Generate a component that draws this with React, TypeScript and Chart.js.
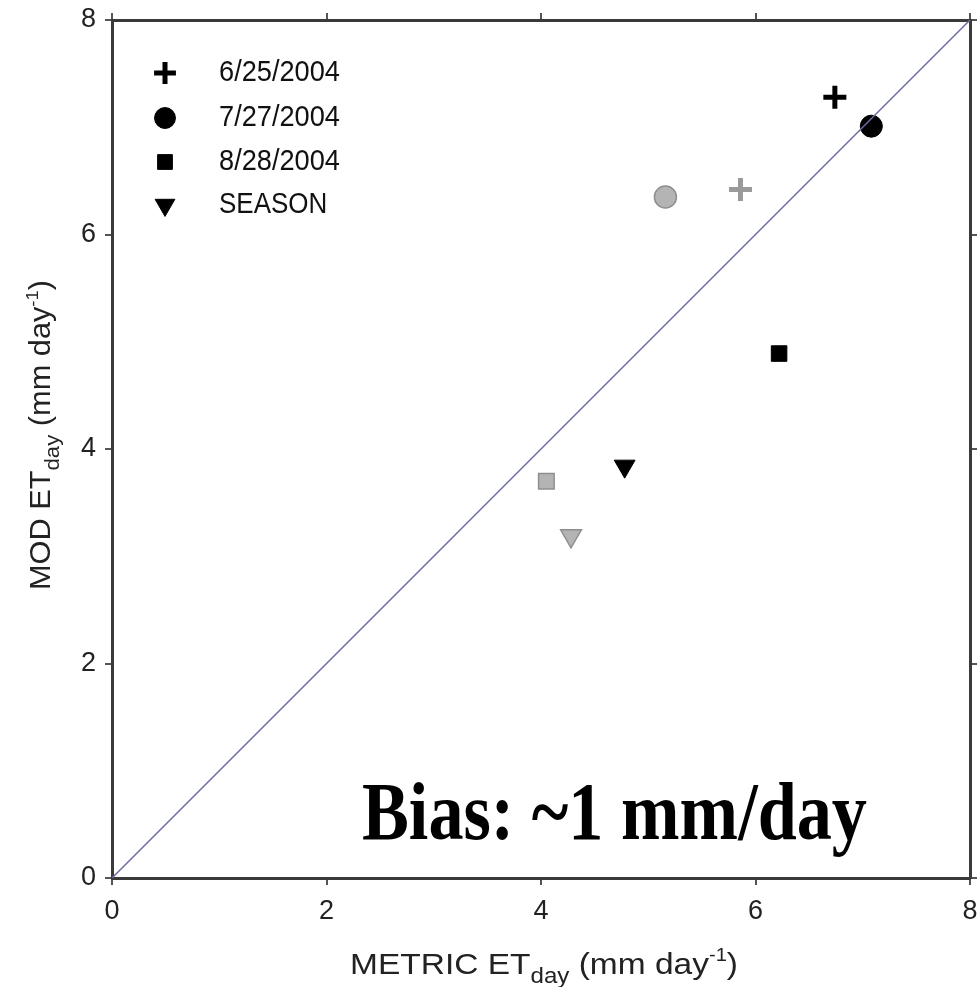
import React, { useEffect, useRef } from "react";
import { Chart, registerables } from "chart.js";
import { drawPoint } from "chart.js/helpers";

Chart.register(...registerables);

// ---- data ----
const seriesLabels = ["6/25/2004", "7/27/2004", "8/28/2004", "SEASON"];
const metricBlack = [6.74, 7.08, 6.22, 4.78];
const modBlack = [7.28, 7.01, 4.89, 3.84];
const metricGray = [5.86, 5.16, 4.05, 4.28];
const modGray = [6.42, 6.35, 3.7, 3.19];
const markerStyles = ["cross", "circle", "rect", "triangle"];
const markerRadii = [11.5, 11, 11, 12];
const tickValues = [0, 2, 4, 6, 8];
const lineX = [0, 8];
const lineY = [0, 8];
const biasText = "Bias: ~1 mm/day";

const SANS = "'Liberation Sans', Arial, Helvetica, sans-serif";
const SERIF = "'Liberation Serif', 'Times New Roman', serif";

type Part = { t: string; s: number; dy: number };

function partsWidth(ctx: CanvasRenderingContext2D, parts: Part[], base: number) {
  let w = 0;
  for (const p of parts) {
    ctx.font = `${base * p.s}px ${SANS}`;
    w += ctx.measureText(p.t).width;
  }
  return w;
}
function drawParts(ctx: CanvasRenderingContext2D, parts: Part[], base: number, x: number, y: number) {
  let cx = x;
  for (const p of parts) {
    ctx.font = `${base * p.s}px ${SANS}`;
    ctx.fillText(p.t, cx, y + p.dy * base);
    cx += ctx.measureText(p.t).width;
  }
}

const xTitle: Part[] = [
  { t: "METRIC ET", s: 1, dy: 0 },
  { t: "day", s: 0.72, dy: 0.3 },
  { t: " (mm day", s: 1, dy: 0 },
  { t: "-1", s: 0.6, dy: -0.42 },
  { t: ")", s: 1, dy: 0 },
];
const yTitle: Part[] = [
  { t: "MOD ET", s: 1, dy: 0 },
  { t: "day", s: 0.72, dy: 0.3 },
  { t: " (mm day", s: 1, dy: 0 },
  { t: "-1", s: 0.6, dy: -0.42 },
  { t: ")", s: 1, dy: 0 },
];

const overlayPlugin = {
  id: "overlay",
  afterDraw(chart: any) {
    const ctx: CanvasRenderingContext2D = chart.ctx;
    ctx.save();
    ctx.fillStyle = "#222";
    ctx.textBaseline = "alphabetic";
    ctx.textAlign = "left";

    // x title
    {
      const base = 28;
      const w = partsWidth(ctx, xTitle, base);
      const sx = 388 / w;
      ctx.save();
      ctx.translate(350, 974);
      ctx.scale(sx, 1.08);
      drawParts(ctx, xTitle, base, 0, 0);
      ctx.restore();
    }
    // y title
    {
      const base = 29;
      const w = partsWidth(ctx, yTitle, base);
      const sx = 310 / w;
      ctx.save();
      ctx.translate(50, 590);
      ctx.rotate(-Math.PI / 2);
      ctx.scale(sx, 1);
      drawParts(ctx, yTitle, base, 0, 0);
      ctx.restore();
    }

    // legend
    const legendItems = chart.data.datasets.filter((d: any) => d.inLegend);
    const rowsY = [73, 118, 162, 205];
    legendItems.forEach((d: any, i: number) => {
      const y = rowsY[i];
      ctx.save();
      ctx.fillStyle = d.backgroundColor;
      ctx.strokeStyle = d.borderColor;
      ctx.lineWidth = d.borderWidth;
      drawPoint(ctx, { pointStyle: d.pointStyle, rotation: d.rotation || 0, radius: d.radius * 0.95, borderWidth: d.borderWidth } as any, 165, y);
      ctx.restore();
      ctx.save();
      ctx.fillStyle = "#111";
      ctx.font = `26px ${SANS}`;
      ctx.textBaseline = "middle";
      const w = ctx.measureText(d.label).width;
      ctx.translate(219, y);
      ctx.scale(i === 3 ? 1 : 121 / w, 1.1);
      ctx.fillText(d.label, 0, 0);
      ctx.restore();
    });

    // bias annotation
    ctx.save();
    ctx.fillStyle = "#000";
    ctx.font = `bold 71px ${SERIF}`;
    const bw = ctx.measureText(biasText).width;
    ctx.translate(362, 839);
    ctx.scale(505 / bw, 1.15);
    ctx.fillText(biasText, 0, 0);
    ctx.restore();

    ctx.restore();
  },
};

export default function App() {
  const ref = useRef<HTMLCanvasElement>(null);
  useEffect(() => {
    if (!ref.current) return;
    const gray = { fill: "#b4b4b4", stroke: "#8e8e8e" };
    const datasets: any[] = [];
    seriesLabels.forEach((lab, i) => {
      const isCross = markerStyles[i] === "cross";
      const rot = markerStyles[i] === "triangle" ? 180 : 0;
      datasets.push({
        label: lab,
        inLegend: true,
        data: [{ x: metricBlack[i], y: modBlack[i] }],
        pointStyle: markerStyles[i],
        radius: markerRadii[i],
        pointRadius: markerRadii[i],
        rotation: rot,
        pointRotation: rot,
        backgroundColor: "#000",
        borderColor: "#000",
        borderWidth: isCross ? 5 : 1,
        pointBorderWidth: isCross ? 5 : 1,
        showLine: false,
      });
      datasets.push({
        label: lab + " (gray)",
        inLegend: false,
        data: [{ x: metricGray[i], y: modGray[i] }],
        pointStyle: markerStyles[i],
        radius: markerRadii[i],
        pointRadius: markerRadii[i],
        rotation: rot,
        pointRotation: rot,
        backgroundColor: isCross ? "#999" : gray.fill,
        borderColor: isCross ? "#9a9a9a" : gray.stroke,
        borderWidth: isCross ? 5 : 1.5,
        pointBorderWidth: isCross ? 5 : 1.5,
        showLine: false,
      });
    });
    datasets.unshift({
      label: "1:1",
      inLegend: false,
      data: lineX.map((x, i) => ({ x, y: lineY[i] })),
      showLine: true,
      borderColor: "#6b6ba3",
      borderWidth: 1.5,
      pointRadius: 0,
      fill: false,
    });

    const gridCommon = {
      drawOnChartArea: false,
      drawTicks: true,
      tickLength: 7,
      tickColor: "#555",
      lineWidth: 2,
    };
    const borderCommon = { display: true, color: "#3a3a3a", width: 3 };
    const tickCb = (v: any) => (tickValues.includes(v) ? String(v) : "");
    const fitH = (h: number) => (s: any) => { s.height = h; s.paddingLeft = 0; s.paddingRight = 0; };
    const fitW = (w: number) => (s: any) => { s.width = w; s.paddingTop = 0; s.paddingBottom = 0; };

    const chart = new Chart(ref.current, {
      type: "scatter",
      data: { datasets },
      plugins: [overlayPlugin],
      options: {
        animation: false,
        responsive: false,
        maintainAspectRatio: false,
        layout: { padding: 0, autoPadding: false },
        plugins: { legend: { display: false }, tooltip: { enabled: false } },
        scales: {
          x: {
            type: "linear",
            position: "bottom",
            min: 0,
            max: 8,
            afterFit: fitH(109),
            ticks: { stepSize: 2, padding: 10, color: "#222", font: { size: 27, family: SANS }, callback: tickCb },
            grid: gridCommon,
            border: borderCommon,
          },
          x2: {
            type: "linear",
            position: "top",
            min: 0,
            max: 8,
            afterFit: fitH(20),
            ticks: { stepSize: 2, display: false },
            grid: gridCommon,
            border: borderCommon,
          },
          y: {
            type: "linear",
            position: "left",
            min: 0,
            max: 8,
            afterFit: fitW(112),
            ticks: { stepSize: 2, padding: 9, color: "#222", font: { size: 27, family: SANS }, callback: tickCb },
            grid: gridCommon,
            border: borderCommon,
          },
          y2: {
            type: "linear",
            position: "right",
            min: 0,
            max: 8,
            afterFit: fitW(10),
            ticks: { stepSize: 2, display: false },
            grid: gridCommon,
            border: borderCommon,
          },
        },
      } as any,
    });
    return () => chart.destroy();
  }, []);

  return (
    <div style={{ position: "absolute", left: 0, top: 0, width: 980, height: 987, background: "#fff" }}>
      <canvas ref={ref} width={980} height={987} style={{ display: "block", width: 980, height: 987 }} />
    </div>
  );
}
